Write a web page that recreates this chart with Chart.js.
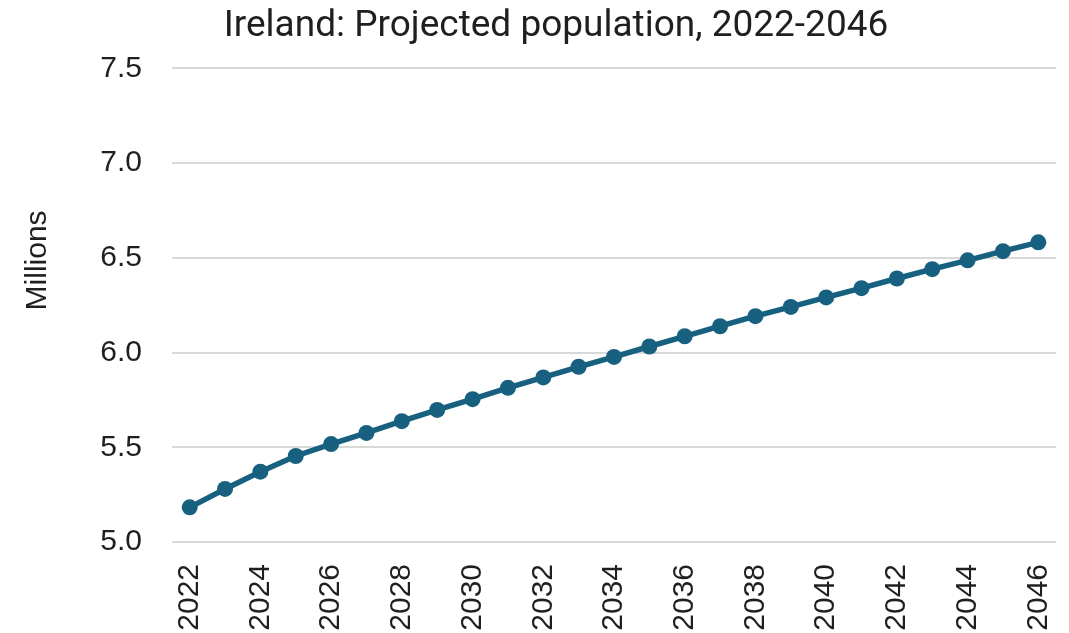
<!DOCTYPE html>
<html>
<head>
<meta charset="utf-8">
<script src="https://cdn.jsdelivr.net/npm/chart.js@4"></script>
<style>
  html, body { margin: 0; padding: 0; background: #ffffff; }
  #wrap { width: 1069px; height: 633px; }
</style>
</head>
<body>
<div id="wrap"><canvas id="chart" width="1069" height="633"></canvas></div>
<script>
// Projected population of Ireland, millions
const years = ['2022','2023','2024','2025','2026','2027','2028','2029','2030','2031','2032','2033','2034',
               '2035','2036','2037','2038','2039','2040','2041','2042','2043','2044','2045','2046'];
const population = [5.183, 5.280, 5.371, 5.454, 5.517, 5.576, 5.638, 5.697, 5.754, 5.814, 5.869, 5.925, 5.977,
                    6.032, 6.086, 6.139, 6.192, 6.241, 6.291, 6.340, 6.391, 6.440, 6.487, 6.535, 6.582];
const yMin = 5.0, yMax = 7.5, yStep = 0.5;
const yAxisTitle = 'Millions';

const lineColor = '#17607f';
const textColor = '#1f1f1f';
const gridColor = '#d9d9d9';
const tickFont = { family: "'Liberation Sans', Arial, sans-serif", size: 30 };

// Nudges the title block right and draws the rotated y-axis caption
const captionPlugin = {
  id: 'caption',
  afterLayout(chart) {
    const tb = chart.titleBlock;
    if (tb) { tb.left += 28; tb.right += 28; }
  },
  afterDraw(chart) {
    const ctx = chart.ctx;
    const area = chart.chartArea;
    ctx.save();
    ctx.translate(area.left - 134, area.top + 192);
    ctx.rotate(-Math.PI / 2);
    ctx.font = tickFont.size + 'px ' + tickFont.family;
    ctx.fillStyle = textColor;
    ctx.textAlign = 'center';
    ctx.textBaseline = 'middle';
    ctx.fillText(yAxisTitle, 0, 0);
    ctx.restore();
  }
};

new Chart(document.getElementById('chart'), {
  type: 'line',
  data: {
    labels: years,
    datasets: [{
      data: population,
      borderColor: lineColor,
      backgroundColor: lineColor,
      borderWidth: 5.5,
      pointRadius: 8,
      pointBorderWidth: 0,
      pointBackgroundColor: lineColor,
      tension: 0
    }]
  },
  plugins: [captionPlugin],
  options: {
    responsive: false,
    animation: false,
    devicePixelRatio: 1,
    layout: { padding: { left: 0, right: 13, top: 0, bottom: 0 } },
    plugins: {
      legend: { display: false },
      tooltip: { enabled: false },
      title: {
        display: true,
        text: 'Ireland: Projected population, 2022-2046',
        color: textColor,
        font: { family: "'Roboto', sans-serif", size: 37, weight: 'normal' },
        padding: { top: 5, bottom: 19 }
      }
    },
    scales: {
      x: {
        offset: true,
        grid: { display: false, drawTicks: false },
        border: { display: false },
        ticks: {
          color: textColor,
          font: tickFont,
          minRotation: 90,
          maxRotation: 90,
          autoSkip: false,
          padding: 22,
          callback: function (v, i) { return i % 2 === 0 ? years[i] : ''; }
        },
        afterFit: function (s) { s.height = 91; s.paddingLeft = 0; s.paddingRight = 0; }
      },
      y: {
        min: yMin,
        max: yMax,
        grid: { color: gridColor, lineWidth: 2, drawTicks: false },
        border: { display: false },
        ticks: {
          stepSize: yStep,
          color: textColor,
          font: tickFont,
          padding: 30,
          callback: function (v) { return v.toFixed(1); }
        },
        afterFit: function (s) { s.width = 172; s.paddingTop = 0; s.paddingBottom = 0; }
      }
    }
  }
});
</script>
</body>
</html>
